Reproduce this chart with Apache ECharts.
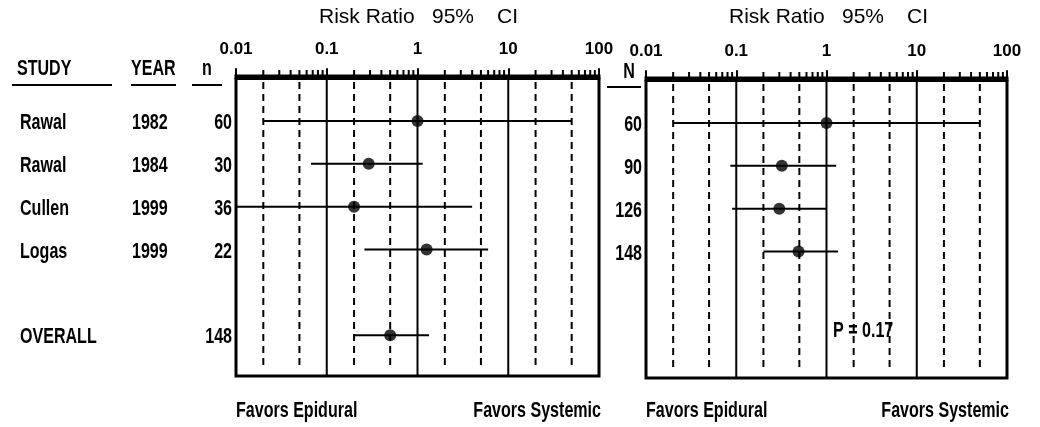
<!DOCTYPE html>
<html>
<head>
<meta charset="utf-8">
<script src="https://cdn.jsdelivr.net/npm/echarts@6/dist/echarts.min.js"></script>
<style>
html,body{margin:0;padding:0;background:#fff;}
#chart{width:1040px;height:427px;}
</style>
</head>
<body>
<div id="chart"></div>
<script>
// ---- data ----
const studies = ['Rawal', 'Rawal', 'Cullen', 'Logas', 'OVERALL'];
const years = ['1982', '1984', '1999', '1999', ''];
const nValues = [60, 30, 36, 22, 148];
const rowPos = [1, 2, 3, 4, 6];
const rr = [1.0, 0.29, 0.2, 1.26, 0.5];
const ciLow = [0.02, 0.067, 0.01, 0.26, 0.2];
const ciHigh = [50, 1.14, 4.0, 6.0, 1.34];

const cumN = [60, 90, 126, 148];
const cumRow = [1, 2, 3, 4];
const cumRR = [1.0, 0.32, 0.30, 0.49];
const cumLow = [0.02, 0.086, 0.09, 0.2];
const cumHigh = [50, 1.28, 1.0, 1.34];

const tickLabels = ['0.01', '0.1', '1', '10', '100'];
const decades = [0.01, 0.1, 1, 10];
const minorMult = [2, 3, 4, 5, 6, 7, 8, 9];
const solidLines = [0.1, 1, 10];
const dashedLines = [0.02, 0.05, 0.2, 0.5, 2, 5, 20, 50];
const pText = 'P = 0.17';

// ---- layout ----
const Y_MIN = -0.05, Y_MAX = 6.95;
const FONT = "'Liberation Sans', Arial, Helvetica, sans-serif";
const SX = 0.73;
const BODY = 'bold 22px ' + FONT;

const chart = echarts.init(document.getElementById('chart'), null, {renderer: 'canvas'});

const minorTicks = [];
decades.forEach(d => minorMult.forEach(m => minorTicks.push([+(d * m).toPrecision(3), 0])));

function xAxisDef(gi) {
  return {
    type: 'log', logBase: 10, min: 0.01, max: 100, gridIndex: gi, position: 'top',
    axisLine: {lineStyle: {color: '#000', width: 3}},
    axisTick: {length: 10, lineStyle: {color: '#000', width: 2}},
    axisLabel: {color: '#000', fontSize: 17, fontWeight: 'bold', fontFamily: FONT, margin: 18,
      showMinLabel: true, showMaxLabel: true,
      formatter: (v, i) => tickLabels[i] !== undefined ? tickLabels[i] : ''},
    splitLine: {show: false}, minorTick: {show: false}
  };
}
function yAxisDef(gi) {
  return {type: 'value', gridIndex: gi, min: Y_MIN, max: Y_MAX, inverse: true, show: false};
}

function refLineSeries(gi, vals, dashed) {
  return {
    type: 'custom', xAxisIndex: gi, yAxisIndex: gi, clip: false, silent: true, z: 1,
    data: vals.map(v => [v, 0]), encode: {x: 0, y: 1},
    renderItem: (params, api) => {
      const v = api.value(0);
      const top = api.coord([v, Y_MIN]);
      const bot = api.coord([v, Y_MAX]);
      return {
        type: 'line',
        shape: {x1: top[0], y1: top[1] + (dashed ? 6 : 0), x2: bot[0], y2: bot[1] - (dashed ? 6 : 0)},
        style: {stroke: '#000', lineWidth: 2, lineDash: dashed ? [7, 5] : null}
      };
    }
  };
}
function minorTickSeries(gi) {
  return {
    type: 'custom', xAxisIndex: gi, yAxisIndex: gi, clip: false, silent: true, z: 3,
    data: minorTicks, encode: {x: 0, y: 1},
    renderItem: (params, api) => {
      const p = api.coord([api.value(0), Y_MIN]);
      return {type: 'line', shape: {x1: p[0], y1: p[1], x2: p[0], y2: p[1] - 6},
        style: {stroke: '#000', lineWidth: 2}};
    }
  };
}
function ciSeries(gi, lo, hi, rows) {
  return {
    type: 'custom', xAxisIndex: gi, yAxisIndex: gi, clip: false, silent: true, z: 4,
    data: rows.map((y, i) => [lo[i], hi[i], y]), encode: {x: [0, 1], y: 2},
    renderItem: (params, api) => {
      const a = api.coord([api.value(0), api.value(2)]);
      const b = api.coord([api.value(1), api.value(2)]);
      return {type: 'line', shape: {x1: a[0], y1: a[1], x2: b[0], y2: b[1]},
        style: {stroke: '#000', lineWidth: 2}};
    }
  };
}
function pointSeries(gi, vals, rows) {
  return {
    type: 'scatter', xAxisIndex: gi, yAxisIndex: gi, z: 5, silent: true,
    symbol: 'circle', symbolSize: 12, itemStyle: {color: '#000'},
    data: rows.map((y, i) => [vals[i], y])
  };
}
function txt(x, y, text, align, font, sx) {
  return {type: 'text', x: x, y: y, scaleX: sx, silent: true,
    style: {text: text, fill: '#000', font: font, align: align, verticalAlign: 'middle'}};
}

const leftLabelSeries = {
  type: 'custom', xAxisIndex: 0, yAxisIndex: 0, clip: false, silent: true, z: 6,
  data: rowPos.map(y => [1, y]), encode: {x: 0, y: 1},
  renderItem: (params, api) => {
    const i = params.dataIndex;
    const y = api.coord([1, api.value(1)])[1] + 2;
    return {type: 'group', children: [
      txt(20, y, studies[i], 'left', BODY, SX),
      txt(132, y, years[i], 'left', BODY, SX),
      txt(232, y, String(nValues[i]), 'right', BODY, SX)
    ]};
  }
};
const rightLabelSeries = {
  type: 'custom', xAxisIndex: 1, yAxisIndex: 1, clip: false, silent: true, z: 6,
  data: cumRow.map(y => [1, y]), encode: {x: 0, y: 1},
  renderItem: (params, api) => {
    const i = params.dataIndex;
    const y = api.coord([1, api.value(1)])[1] + 2;
    return txt(642, y, String(cumN[i]), 'right', BODY, SX);
  }
};

const TITLE = '21px ' + FONT;
function line(x1, y1, x2, y2) {
  return {type: 'line', silent: true, shape: {x1, y1, x2, y2}, style: {stroke: '#000', lineWidth: 2}};
}
const graphics = [
  txt(319, 17, 'Risk Ratio', 'left', TITLE, 1),
  txt(432, 17, '95%', 'left', TITLE, 1),
  txt(497, 17, 'CI', 'left', TITLE, 1),
  txt(729, 17, 'Risk Ratio', 'left', TITLE, 1),
  txt(842, 17, '95%', 'left', TITLE, 1),
  txt(907, 17, 'CI', 'left', TITLE, 1),
  txt(17, 69, 'STUDY', 'left', BODY, SX),
  line(12, 85, 112, 85),
  txt(131, 69, 'YEAR', 'left', BODY, SX),
  line(131, 85, 176, 85),
  txt(207, 69, 'n', 'center', BODY, SX),
  line(192, 85, 222, 85),
  txt(629, 72, 'N', 'center', BODY, SX),
  line(607, 87, 641, 87),
  txt(236, 411, 'Favors Epidural', 'left', BODY, SX),
  txt(601, 411, 'Favors Systemic', 'right', BODY, SX),
  txt(646, 411, 'Favors Epidural', 'left', BODY, SX),
  txt(1009, 411, 'Favors Systemic', 'right', BODY, SX),
  txt(833, 331, pText, 'left', BODY, SX)
];

chart.setOption({
  animation: false,
  backgroundColor: '#fff',
  grid: [
    {left: 236, top: 76, width: 363, height: 300, show: true, borderColor: '#000', borderWidth: 3},
    {left: 646, top: 78, width: 361, height: 300, show: true, borderColor: '#000', borderWidth: 3}
  ],
  xAxis: [xAxisDef(0), xAxisDef(1)],
  yAxis: [yAxisDef(0), yAxisDef(1)],
  graphic: graphics,
  series: [
    refLineSeries(0, dashedLines, true), refLineSeries(0, solidLines, false), minorTickSeries(0),
    ciSeries(0, ciLow, ciHigh, rowPos), pointSeries(0, rr, rowPos), leftLabelSeries,
    refLineSeries(1, dashedLines, true), refLineSeries(1, solidLines, false), minorTickSeries(1),
    ciSeries(1, cumLow, cumHigh, cumRow), pointSeries(1, cumRR, cumRow), rightLabelSeries
  ]
});
</script>
</body>
</html>
